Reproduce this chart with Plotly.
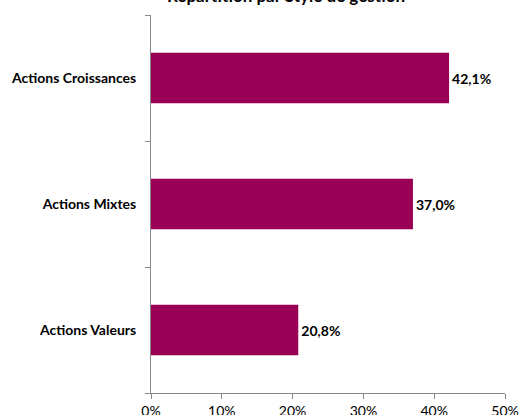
import plotly.graph_objects as go

categories = ["Actions Valeurs", "Actions Mixtes", "Actions Croissances"]
values = [20.8, 37.0, 42.1]
x_ticks = [0, 10, 20, 30, 40, 50]
x_tick_labels = ["0%", "10%", "20%", "30%", "40%", "50%"]
title_text = "Répartition par Style de gestion"

bar_color = "#990055"
font_family = "Lato, Open Sans, sans-serif"

fig = go.Figure(go.Bar(
    y=categories, x=values, orientation="h",
    marker=dict(color=bar_color, line=dict(width=0)),
    width=0.4,
    texttemplate="%{x:.1f}%", textposition="outside",
    textfont=dict(family=font_family, size=14, color="#000000", weight="bold"),
    cliponaxis=False,
))

fig.update_layout(
    width=520, height=415,
    margin=dict(l=151, r=15, t=15, b=22, autoexpand=False),
    plot_bgcolor="white", paper_bgcolor="white",
    separators=", ",
    showlegend=False,
    font=dict(family=font_family, size=13, color="#000000"),
    xaxis=dict(
        range=[0, 50], tickmode="array", tickvals=x_ticks, ticktext=x_tick_labels,
        showgrid=False, zeroline=False, automargin=False,
        showline=True, linecolor="#868686", linewidth=1,
        ticks="outside", ticklen=5, tickcolor="#868686",
        tickfont=dict(size=14),
    ),
    yaxis=dict(
        showgrid=False, zeroline=False, automargin=False,
        showline=True, linecolor="#868686", linewidth=1,
        ticks="outside", ticklen=5, tickcolor="#868686",
        tickson="boundaries", ticklabelstandoff=11,
        tickfont=dict(size=14, weight="bold"),
    ),
    annotations=[dict(
        text="<b>" + title_text + "</b>", xref="paper", yref="paper",
        x=0.38, y=1, yshift=20, xanchor="center", yanchor="middle",
        showarrow=False, font=dict(size=17, family=font_family),
    )],
)

fig.write_html("out.html", config={"displayModeBar": False},
               post_script="document.body.style.margin='0px';")
